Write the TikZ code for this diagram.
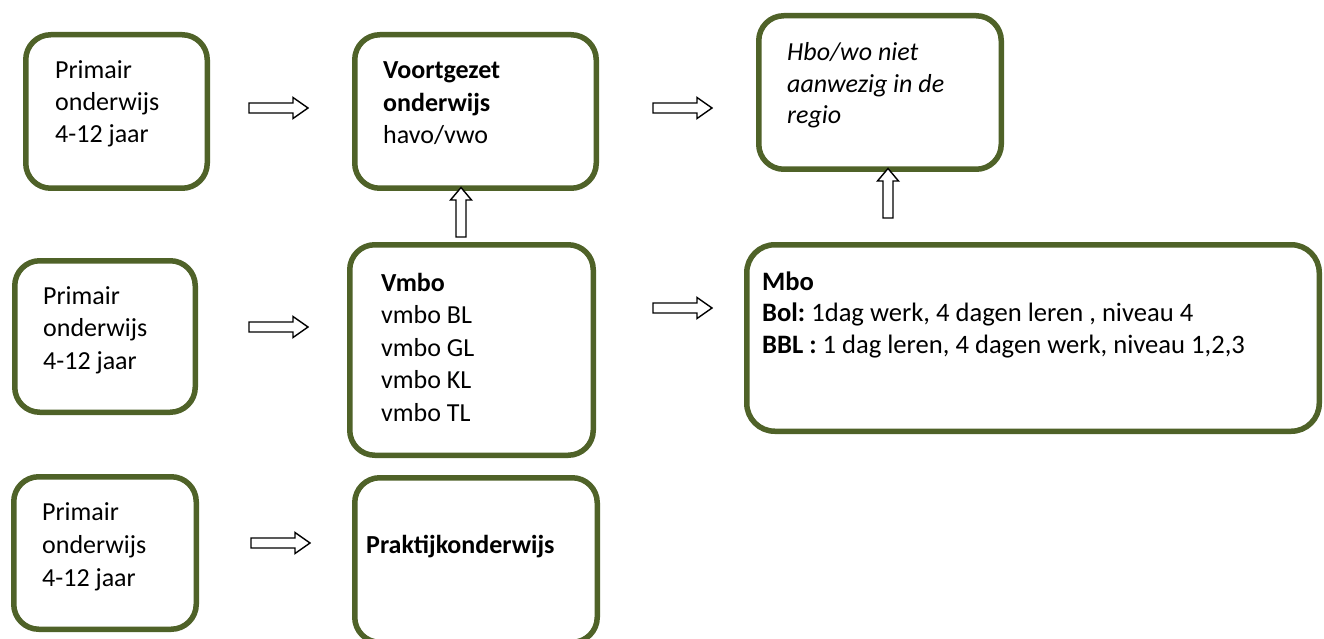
\documentclass[tikz,border=0pt]{standalone}
\usepackage{fontspec}
\setmainfont{Carlito}
\usetikzlibrary{calc}
\definecolor{boxgreen}{HTML}{4F6228}
\frenchspacing
\tikzset{
  box/.style={draw=boxgreen, line width=5.5pt, rounded corners=25pt, fill=white, inner sep=0pt},
  txt/.style={anchor=base west, inner sep=0pt, font=\fontsize{26}{32}\selectfont},
  blockarrow/.style={draw=black, line width=1.4pt, fill=white, line join=miter},
}
\newcommand{\harrow}[1]{\draw[blockarrow] (#1) ++(0,-5) -- ++(44,0) -- ++(0,-5.5) -- ++(15,10.5) -- ++(-15,10.5) -- ++(0,-5.5) -- ++(-44,0) -- cycle;}
\newcommand{\varrow}[1]{\draw[blockarrow] (#1) ++(-5,0) -- ++(0,-37) -- ++(-5.5,0) -- ++(10.5,-12.5) -- ++(10.5,12.5) -- ++(-5.5,0) -- ++(0,37) -- cycle;}
\begin{document}
\begin{tikzpicture}[x=1pt,y=-1pt]
\useasboundingbox (0,0) rectangle (1324,639);
\fill[white] (0,0) rectangle (1324,639);

% boxes
\node[box, minimum width=181.5pt, minimum height=153.5pt] (a1) at (116.5,111.5) {};
\node[box, minimum width=180.5pt, minimum height=151.5pt] (a2) at (105,336.5) {};
\node[box, minimum width=182.5pt, minimum height=152.5pt] (a3) at (105,553) {};
\node[box, minimum width=241.5pt, minimum height=153.5pt] (vo) at (475.5,111.5) {};
\node[box, minimum width=243.5pt, minimum height=210.5pt] (vmbo) at (471.5,350) {};
\node[box, minimum width=242.5pt, minimum height=164.5pt] (prak) at (476,560) {};
\node[box, minimum width=242.5pt, minimum height=153.5pt] (hbo) at (880,92.5) {};
\node[box, rounded corners=28pt, minimum width=572.5pt, minimum height=186.5pt] (mbo) at (1033,338) {};

% texts
\node[txt] (a1t) at (55,79) {\begin{tabular}[t]{@{}l@{}}Primair\\onderwijs\\4-12 jaar\end{tabular}};
\node[txt, font=\fontsize{26}{32.5}\selectfont] (a2t) at (43,304) {\begin{tabular}[t]{@{}l@{}}Primair\\onderwijs\\4-12 jaar\end{tabular}};
\node[txt, font=\fontsize{26}{33}\selectfont] (a3t) at (42,520) {\begin{tabular}[t]{@{}l@{}}Primair\\onderwijs\\4-12 jaar\end{tabular}};
\node[txt, font=\fontsize{26}{32.5}\selectfont] (vot) at (383,79) {\begin{tabular}[t]{@{}l@{}}\textbf{Voortgezet}\\\textbf{onderwijs}\\havo/vwo\end{tabular}};
\node[txt, font=\fontsize{26}{32.5}\selectfont] (vmbot) at (381,291) {\begin{tabular}[t]{@{}l@{}}\textbf{Vmbo}\\vmbo BL\\vmbo GL\\vmbo KL\\vmbo TL\end{tabular}};
\node[txt] (prakt) at (366,553) {\textbf{Praktijkonderwijs}};
\node[txt, font=\fontsize{26}{31.5}\selectfont\itshape] (hbot) at (787,61) {\begin{tabular}[t]{@{}l@{}}Hbo/wo niet\\aanwezig in de\\regio\end{tabular}};
\node[txt, font=\fontsize{26.6}{31.5}\selectfont] (mbot) at (762,290) {\begin{tabular}[t]{@{}l@{}}\textbf{Mbo}\\\textbf{Bol:} 1dag werk, 4 dagen leren , niveau 4\\\textbf{BBL :} 1 dag leren, 4 dagen werk, niveau 1,2,3\end{tabular}};

% arrows
\coordinate (h1) at (249,108);
\coordinate (h2) at (249,327);
\coordinate (h3) at (251,543);
\coordinate (h4) at (653,108);
\coordinate (h5) at (653,308);
\coordinate (v1) at (461,237);
\coordinate (v2) at (888,218);
\harrow{h1}
\harrow{h2}
\harrow{h3}
\harrow{h4}
\harrow{h5}
\varrow{v1}
\varrow{v2}
\end{tikzpicture}
\end{document}
